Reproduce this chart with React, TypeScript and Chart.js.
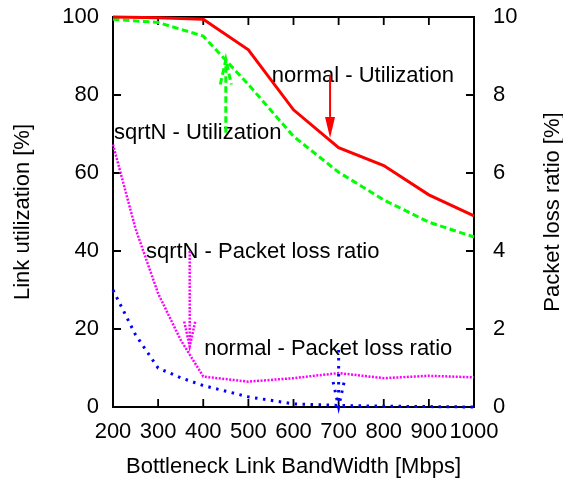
import React, { useEffect, useRef } from 'react';
import { Chart, registerables } from 'chart.js';

Chart.register(...registerables);

// ---- data ----
const utilBandwidths = [200, 300, 400, 500, 600, 700, 800, 900, 1000];
const normalUtilization = [100, 99.8, 99.4, 91.6, 76.2, 66.5, 61.9, 54.4, 49.0];
const sqrtNUtilization = [99.4, 98.6, 95.1, 82.7, 69.4, 60.2, 53.1, 47.4, 43.6];

const lossBandwidths = [200, 250, 300, 350, 400, 500, 600, 700, 800, 900, 1000];
const sqrtNLoss = [6.73, 4.57, 2.91, 1.72, 0.78, 0.65, 0.74, 0.87, 0.74, 0.8, 0.76];
const normalLoss = [3.0, 1.85, 1.0, 0.75, 0.55, 0.26, 0.08, 0.04, 0.02, 0.01, 0.0];

const xTitle = 'Bottleneck Link BandWidth [Mbps]';
const yTitle = 'Link utilization [%]';
const y2Title = 'Packet loss ratio [%]';

// annotation labels (data units)
const labelTexts = ['normal - Utilization', 'sqrtN - Utilization', 'sqrtN - Packet loss ratio', 'normal - Packet loss ratio'];
const labelX = [552, 202, 273, 402];
const labelY = [85, 70.3, 3.98, 1.49];
const labelAxis = ['y', 'y', 'y2', 'y2'];

// arrows (data units)
const arrowX = [681, 450, 370, 700];
const arrowFrom = [85.2, 70.3, 4.0, 1.46];
const arrowTo = [69.0, 89.1, 1.55, 0.0];
const arrowAxis = ['y', 'y', 'y2', 'y2'];

const FONT = "'Liberation Sans', Arial, Helvetica, sans-serif";
const colors = ['#ff0000', '#00ff00', '#ff00ff', '#0000ff'];
const widths = [3, 3, 2.5, 3];
const dashes: number[][] = [[], [6.5, 3.5], [2, 1.5], [2.5, 5.5]];

function drawArrow(ctx: CanvasRenderingContext2D, x: number, y0: number, y1: number, color: string, lw: number, dash: number[]) {
  const dir = y1 > y0 ? 1 : -1;
  const solid = dash.length === 0;
  const headLen = solid ? 21 : 25;
  const headHalf = solid ? 5 : 5.5;
  ctx.save();
  ctx.strokeStyle = color;
  ctx.fillStyle = color;
  ctx.lineWidth = solid ? 2 : lw;
  ctx.setLineDash(dash);
  ctx.beginPath();
  ctx.moveTo(x, y0);
  ctx.lineTo(x, y1 - (solid ? dir * headLen : 0));
  ctx.stroke();
  ctx.beginPath();
  ctx.moveTo(x - headHalf, y1 - dir * headLen);
  ctx.lineTo(x, y1);
  ctx.lineTo(x + headHalf, y1 - dir * headLen);
  if (solid) {
    ctx.closePath();
    ctx.fill();
  } else {
    ctx.stroke();
  }
  ctx.restore();
}

const framePlugin = {
  id: 'gnuplotFrame',
  beforeDatasetsDraw(chart: any) {
    const { ctx, chartArea } = chart;
    const { left, right, top, bottom } = chartArea;
    const xs = chart.scales.x;
    const ys = chart.scales.y;
    const y2s = chart.scales.y2;
    const tl = 8;
    ctx.save();
    ctx.strokeStyle = '#000';
    ctx.lineWidth = 2;
    ctx.setLineDash([]);
    ctx.strokeRect(left, top, right - left, bottom - top);
    ctx.lineWidth = 1.8;
    ctx.beginPath();
    xs.ticks.forEach((t: any) => {
      const px = xs.getPixelForValue(t.value);
      ctx.moveTo(px, bottom);
      ctx.lineTo(px, bottom - tl);
      ctx.moveTo(px, top);
      ctx.lineTo(px, top + tl);
    });
    ys.ticks.forEach((t: any) => {
      const py = ys.getPixelForValue(t.value);
      ctx.moveTo(left, py);
      ctx.lineTo(left + tl, py);
    });
    y2s.ticks.forEach((t: any) => {
      const py = y2s.getPixelForValue(t.value);
      ctx.moveTo(right, py);
      ctx.lineTo(right - tl, py);
    });
    ctx.stroke();
    ctx.restore();
  },
  afterDatasetsDraw(chart: any) {
    const { ctx } = chart;
    const xs = chart.scales.x;
    ctx.save();
    ctx.fillStyle = '#000';
    ctx.font = `22px ${FONT}`;
    ctx.textBaseline = 'middle';
    ctx.textAlign = 'left';
    labelTexts.forEach((t, i) => {
      const sc = chart.scales[labelAxis[i]];
      ctx.fillText(t, xs.getPixelForValue(labelX[i]), sc.getPixelForValue(labelY[i]));
    });
    arrowX.forEach((ax, i) => {
      const sc = chart.scales[arrowAxis[i]];
      drawArrow(ctx, xs.getPixelForValue(ax), sc.getPixelForValue(arrowFrom[i]), sc.getPixelForValue(arrowTo[i]), colors[i], widths[i], dashes[i]);
    });
    // right axis title, rotated like gnuplot (reads bottom-to-top)
    const ya = chart.scales.y2;
    ctx.fillStyle = '#000';
    ctx.translate(553, (ya.top + ya.bottom) / 2);
    ctx.rotate(-Math.PI / 2);
    ctx.textAlign = 'center';
    ctx.fillText(y2Title, 0, 0);
    ctx.restore();
  },
};

export default function App() {
  const canvasRef = useRef<HTMLCanvasElement | null>(null);

  useEffect(() => {
    const canvas = canvasRef.current;
    if (!canvas) return;
    const font = { family: FONT, size: 22 };
    const plain = (v: any) => String(v);
    const fitV = (w: number) => (s: any) => {
      s.width = w;
      s.paddingTop = 0;
      s.paddingBottom = 0;
    };
    const chart = new Chart(canvas, {
      type: 'line',
      data: {
        datasets: [
          {
            label: labelTexts[0],
            data: utilBandwidths.map((x, i) => ({ x, y: normalUtilization[i] })),
            yAxisID: 'y',
          },
          {
            label: labelTexts[1],
            data: utilBandwidths.map((x, i) => ({ x, y: sqrtNUtilization[i] })),
            yAxisID: 'y',
          },
          {
            label: labelTexts[2],
            data: lossBandwidths.map((x, i) => ({ x, y: sqrtNLoss[i] })),
            yAxisID: 'y2',
          },
          {
            label: labelTexts[3],
            data: lossBandwidths.map((x, i) => ({ x, y: normalLoss[i] })),
            yAxisID: 'y2',
          },
        ].map((d, i) => ({
          ...d,
          borderColor: colors[i],
          backgroundColor: colors[i],
          borderWidth: widths[i],
          borderDash: dashes[i],
          pointRadius: 0,
          tension: 0,
          fill: false,
          clip: 8,
        })) as any,
      },
      options: {
        animation: false,
        responsive: false,
        events: [],
        layout: { padding: { top: 17, left: 0, right: 0, bottom: 0 } },
        plugins: { legend: { display: false }, tooltip: { enabled: false } },
        scales: {
          x: {
            type: 'linear',
            min: 200,
            max: 1000,
            ticks: { stepSize: 100, font, color: '#000', padding: 12, maxRotation: 0, autoSkip: false, callback: plain },
            grid: { display: false, drawTicks: false },
            border: { display: false },
            title: { display: true, text: xTitle, font, color: '#000', padding: { top: 0, bottom: -2 } },
            afterFit: (s: any) => {
              s.height = 71;
              s.paddingLeft = 0;
              s.paddingRight = 0;
            },
          },
          y: {
            type: 'linear',
            position: 'left',
            min: 0,
            max: 100,
            ticks: { stepSize: 20, font, color: '#000', padding: 14, callback: plain },
            grid: { display: false, drawTicks: false },
            border: { display: false },
            title: { display: true, text: yTitle, font, color: '#000', padding: { top: 10, bottom: 0 } },
            afterFit: fitV(113),
          },
          y2: {
            type: 'linear',
            position: 'right',
            min: 0,
            max: 10,
            ticks: { stepSize: 2, font, color: '#000', padding: 19, callback: plain },
            grid: { display: false, drawTicks: false },
            border: { display: false },
            afterFit: fitV(89),
          },
        },
      } as any,
      plugins: [framePlugin],
    });
    return () => chart.destroy();
  }, []);

  return (
    <div style={{ position: 'fixed', left: 0, top: 0, width: 563, height: 478, background: '#fff' }}>
      <canvas ref={canvasRef} width={563} height={478} style={{ width: 563, height: 478, display: 'block' }} />
    </div>
  );
}
